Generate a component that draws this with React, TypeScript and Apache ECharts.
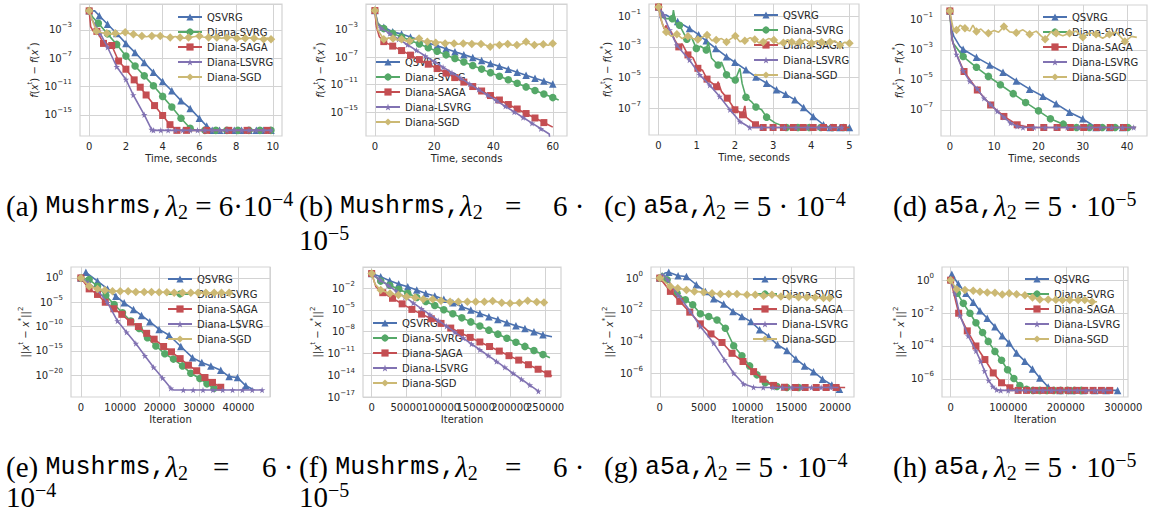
import React, { useEffect, useRef } from 'react';
import * as echarts from 'echarts';

const NAMES = ['QSVRG', 'Diana-SVRG', 'Diana-SAGA', 'Diana-LSVRG', 'Diana-SGD'];
const COLORS = ['#4C72B0', '#55A868', '#C44E52', '#8172B2', '#CCB974'];
const STAR = 'path://M50,0 L61,35 L98,35 L68,57 L79,91 L50,70 L21,91 L32,57 L2,35 L39,35 Z';
const SYMBOLS = ['triangle', 'circle', 'rect', STAR, 'diamond'];
const SYMBOL_SIZES = [7.5, 7.5, 7, 6.5, 8.5];

// ---------- (a) Mushrooms, time, f gap ----------
const aQsvrg = [[0,0.5],[0.3,0.5,0],[0.55,0.1],[1,6.3e-3],[1.5,3.2e-4],[2,1.25e-5],[2.5,6.3e-7],[3,2.5e-8],[3.5,1e-9],[4,5e-11],[4.5,2.5e-12],[5,1e-13],[5.5,8e-15],[6,3.2e-16],[6.4,2.5e-17],[6.7,6.3e-18],[7.1,6.3e-18],[7.5,6.3e-18],[7.9,6.3e-18],[8.3,6.3e-18],[8.7,6.3e-18],[9.1,6.3e-18],[9.5,6.3e-18],[9.9,6.3e-18]];
const aSvrg = [[0,0.5],[0.2,6e-2,0],[0.5,8.7e-3],[1,2.8e-4],[1.5,9e-6],[2,2e-7],[2.5,8e-9],[3,3.2e-10],[3.5,1.25e-11],[4,4e-13],[4.5,1.25e-14],[5,3.2e-16],[5.5,1.25e-17],[5.8,6.3e-18,0],[6.3,6.3e-18],[6.9,6.3e-18],[7.5,6.3e-18],[8.1,6.3e-18],[8.7,6.3e-18],[9.3,6.3e-18],[9.9,6.3e-18]];
const aSaga = [[0,0.5],[0.08,3e-3,0],[0.2,8e-4,0],[0.42,6.3e-4],[0.6,1e-4,0],[0.78,1.25e-5],[1,1e-5,0],[1.23,6.3e-6],[1.6,4e-8],[2,2.8e-9],[2.45,8.7e-11],[2.78,8e-12],[3.1,6.3e-13],[3.56,2e-14],[4,8e-16],[4.4,4e-17],[4.78,6.3e-18],[5.3,6.3e-18],[6.4,6.3e-18],[7.6,6.3e-18],[8.6,6.3e-18],[9.7,6.3e-18]];
const aLsvrg = [[0,0.5],[0.15,3e-2,0],[0.6,3.2e-4],[1,3.6e-6],[1.5,6.3e-9],[2,1e-10],[2.4,6.3e-13],[3,1e-15],[3.4,8e-18],[3.5,6.3e-18],[3.9,6.3e-18],[4.3,6.3e-18],[4.7,6.3e-18],[5.1,6.3e-18],[5.5,6.3e-18],[5.9,6.3e-18],[6.3,6.3e-18],[6.7,6.3e-18],[7.1,6.3e-18],[7.5,6.3e-18],[7.9,6.3e-18],[8.3,6.3e-18],[8.7,6.3e-18],[9.1,6.3e-18],[9.5,6.3e-18],[9.9,6.3e-18]];
const aSgd = [[0,0.5],[0.2,1.5e-2,0],[0.4,6.3e-4],[0.7,4e-4,0],[0.96,3.4e-4],[1.2,2.5e-4,0],[1.42,3.4e-4],[1.7,2.8e-4,0],[1.96,4.7e-4],[2.2,3e-4,0],[2.41,2.5e-4],[2.65,1.8e-4,0],[2.87,1.4e-4],[3.1,1.1e-4,0],[3.41,1.4e-4],[3.6,1.8e-4,0],[3.87,1.4e-4],[4.2,1e-4,0],[4.41,8.3e-5],[4.7,1.2e-4,0],[4.95,8.3e-5],[5.2,7e-5,0],[5.41,8.3e-5],[5.7,1.1e-4,0],[6,1.4e-4],[6.2,1e-4,0],[6.5,8.3e-5],[6.7,1.1e-4,0],[6.95,8.3e-5],[7.2,7e-5,0],[7.5,8.3e-5],[7.8,9e-5,0],[8.04,6.6e-5],[8.2,5.5e-5,0],[8.5,6.6e-5],[8.7,8e-5,0],[8.98,6.6e-5],[9.2,5.5e-5,0],[9.5,4.8e-5],[9.7,7e-5,0],[9.9,5e-5]];

// ---------- (b) Mushrooms, time, f gap ----------
const bQsvrg = [[0,0.7],[0.5,6.3e-3,0],[3,2.5e-3],[6,5.6e-4],[9,2.5e-4],[12,9.3e-5],[15,3.5e-5],[18,1.3e-5],[21,4.8e-6],[24,1.8e-6],[27,6.8e-7],[30,2.5e-7],[33,9.3e-8],[36,3.5e-8],[39,1.3e-8],[42,4.8e-9],[45,1.8e-9],[48,6.6e-10],[51,2.5e-10],[54,9.1e-11],[57,3.4e-11],[60,1.25e-11]];
const bSvrg = [[0,0.7],[1,1e-2,0],[3,1.6e-3],[6,3.2e-4],[9,9.5e-5],[12,2.9e-5],[15,8.7e-6],[18,2.6e-6],[21,8e-7],[24,2.3e-7],[27,7e-8],[30,2.1e-8],[33,6.5e-9],[36,1.9e-9],[39,5.8e-10],[42,1.7e-10],[45,5.2e-11],[48,1.6e-11],[51,4.8e-12],[54,1.4e-12],[57,4.4e-13],[60,1.3e-13],[62,5.9e-14,0]];
const bSaga = [[0,0.7],[0.5,3.2e-3,0],[1.5,1e-4,0],[3,2e-5],[6,4.4e-6],[9,9.8e-7],[12,2.1e-7],[15,4.7e-8],[18,1e-8],[21,2.3e-9],[24,5e-10],[27,1.1e-10],[30,2.4e-11],[33,5.4e-12],[36,1.2e-12],[39,2.6e-13],[42,5.8e-14],[45,1.26e-14],[48,2.8e-15],[51,6.1e-16],[54,1.35e-16],[57,2.9e-17],[60,6.3e-18,0]];
const bLsvrg = [[0,0.7],[1,6.3e-3,0],[2,2e-3],[5,3e-4],[8,4.6e-5],[11,6.9e-6],[14,1.05e-6],[17,1.6e-7],[20,2.5e-8],[23,3.7e-9],[26,5.6e-10],[29,8.5e-11],[32,1.3e-11],[35,1.95e-12],[38,3e-13],[41,4.5e-14],[44,6.9e-15],[47,1.05e-15],[50,1.6e-16],[53,2.4e-17],[56,3.6e-18],[58.8,6.3e-19,0],[59,1e-19,0]];
const bSgd = [[0,0.7],[1,1e-3,0],[3,4.3e-5],[4.5,7e-5,0],[6.1,5.9e-5],[7.5,3.5e-5,0],[9,4.3e-5],[10.5,2.5e-5,0],[11.7,2.4e-5],[13,4e-5,0],[14.9,5.9e-5],[16.3,2.2e-5,0],[17.7,1.9e-5],[19,2.6e-5,0],[20.5,1.4e-5],[22,1.8e-5,0],[23.7,1.1e-5],[25,1.5e-5,0],[26.7,1.1e-5],[28,8e-6,0],[29.8,1.1e-5],[31,1.4e-5,0],[32.7,8.7e-6],[34,1.1e-5,0],[35.8,8.7e-6],[37.5,6e-6,0],[38.9,3.5e-6],[40.5,8e-6,0],[42,6.3e-6],[43.5,9e-6,0],[44.8,8.7e-6],[46.5,6e-6,0],[47.9,6.3e-6],[49.5,9e-6,0],[51,1.9e-5],[52.5,8e-6,0],[53.8,6.3e-6],[55.5,9e-6,0],[56.8,7.9e-6],[58.5,6e-6,0],[60,1.1e-5]];

// ---------- (c) a5a, time, f gap ----------
const cQsvrg = [[0,0.4],[0.11,0.13],[0.2,0.12,0],[0.5,4.5e-2],[0.81,1.6e-2],[1.05,6.3e-3],[1.25,2.5e-3],[1.5,8e-4],[1.78,2.3e-4],[2,1e-4],[2.29,3.2e-5],[2.55,1.1e-5],[2.83,4.3e-6],[3.09,1.6e-6],[3.33,8e-7],[3.57,3.5e-7],[3.8,1.1e-7],[4.05,2.9e-8],[4.32,8.3e-9],[4.5,5.5e-9],[4.75,5.5e-9],[5,5.5e-9]];
const cSvrg = [[0,0.4],[0.15,7e-2,0],[0.36,7e-2],[0.39,0.25,0],[0.45,3.3e-2,0],[0.55,2.6e-2],[0.74,3.2e-3],[0.85,5e-3,0],[0.99,8e-4],[1.1,1.1e-3,0],[1.25,6.3e-4],[1.3,2.1e-3,0],[1.39,1.8e-4,0],[1.56,6.6e-5],[1.65,1e-4,0],[1.78,1.5e-5],[1.91,8.9e-6,0],[2.01,6.9e-6],[2.13,4e-5,0],[2.19,4e-6,0],[2.29,5.2e-7],[2.43,2.7e-7,0],[2.55,1.2e-7],[2.7,7.9e-8,0],[2.83,2.6e-8],[3.05,1.1e-8,0],[3.35,5.5e-9],[3.65,5.5e-9],[3.95,5.5e-9],[4.25,5.5e-9],[4.55,5.5e-9],[4.85,5.5e-9],[5,5.5e-9,0]];
const cSaga = [[0,0.4],[0.07,5.5e-2,0],[0.15,1.5e-2,0],[0.2,2.5e-2,0],[0.27,8e-3,0],[0.33,1e-2,0],[0.42,3e-3,0],[0.53,1e-3],[0.62,1.6e-3,0],[0.77,3e-4],[0.9,2e-4,0],[1.03,4e-5],[1.15,3e-5,0],[1.27,7.9e-6],[1.42,4e-6,0],[1.52,2.5e-6],[1.56,5.4e-6,0],[1.65,1.2e-6,0],[1.8,4.5e-7],[2,7.9e-8],[2.1,6e-8,0],[2.2,3.7e-8],[2.26,1.4e-7,0],[2.3,2.5e-8,0],[2.54,8.3e-9],[2.74,5.5e-9],[3,5.5e-9],[3.27,5.5e-9],[3.53,5.5e-9],[3.79,5.5e-9],[4.05,5.5e-9],[4.32,5.5e-9],[4.58,5.5e-9],[4.84,5.5e-9],[5,5.5e-9,0]];
const cLsvrg = [[0,0.4],[0.13,0.12],[0.29,1.25e-2],[0.48,1.3e-3],[0.65,4e-4,0],[0.81,1.4e-4],[1.08,1.5e-5],[1.34,3.2e-6],[1.6,5.8e-7],[1.87,8e-8],[2.13,1.35e-8],[2.39,5.5e-9],[2.7,5.5e-9],[3,5.5e-9],[3.3,5.5e-9],[3.6,5.5e-9],[3.9,5.5e-9],[4.2,5.5e-9],[4.5,5.5e-9],[4.8,5.5e-9]];
const cSgd = [[0,0.4],[0.1,3e-2,0],[0.2,9.5e-3],[0.33,5e-3,0],[0.48,6.8e-3],[0.62,3.5e-3,0],[0.77,5e-3],[0.9,3.5e-3,0],[1.03,3e-3],[1.15,4.5e-3,0],[1.27,5.9e-3],[1.4,2.5e-3,0],[1.51,2.8e-3],[1.65,3.5e-3,0],[1.78,2.1e-3],[1.9,3.5e-3,0],[2.01,5.2e-3],[2.13,2.2e-3,0],[2.26,2.5e-3],[2.4,4e-3,0],[2.52,3e-3],[2.63,1.8e-3,0],[2.74,2.1e-3],[2.88,3.5e-3,0],[3.02,2.8e-3],[3.15,1.6e-3,0],[3.27,1.9e-3],[3.38,3e-3,0],[3.49,2.1e-3],[3.6,1.5e-3,0],[3.7,2.1e-3],[3.85,3e-3,0],[4.01,1.7e-3],[4.15,2.5e-3,0],[4.27,2.1e-3],[4.38,1.4e-3,0],[4.49,2.1e-3],[4.62,2.5e-3,0],[4.75,1.3e-3],[4.88,2e-3,0],[5,1.7e-3]];

// ---------- (d) a5a, time, f gap ----------
const dQsvrg = [[0,0.4],[0.3,3e-2,0],[0.9,8e-3,0],[2.26,1.7e-3,0],[3,1.1e-3],[6,3.2e-4],[9,1e-4],[12,3.2e-5],[15,8.5e-6],[18,2.4e-6],[21,8e-7],[24,2.5e-7],[27,6.9e-8],[30,2.5e-8],[33,6.6e-9],[36,6.6e-9],[39,6.6e-9],[42,6.6e-9,0]];
const dSvrg = [[0,0.4],[0.3,1.5e-2,0],[0.75,2.8e-3,0],[3,3.6e-4],[6,6.9e-5],[8.7,1.7e-5],[11.4,4.7e-6],[14.3,1.2e-6],[17.1,3.1e-7],[20,8.5e-8],[22.7,2.5e-8],[25.6,1.1e-8],[28.6,6.6e-9],[31.5,6.6e-9],[34.4,6.6e-9],[37.3,6.6e-9],[40.2,6.6e-9],[42,6.6e-9,0]];
const dSaga = [[0,0.4],[0.5,4.7e-3,0],[1.5,5e-4,0],[3.2,3.6e-5],[6.2,2.1e-6],[9.2,2.1e-7],[12.2,3.6e-8],[15.2,1e-8],[18.2,6.6e-9],[21.2,6.6e-9],[24.2,6.6e-9],[27.2,6.6e-9],[30.2,6.6e-9],[33.2,6.6e-9],[36.2,6.6e-9],[39.2,6.6e-9],[42,6.6e-9,0]];
const dLsvrg = [[0,0.4],[0.5,5e-3,0],[1.5,5e-4],[3,4e-5],[4.5,8e-6],[6.2,2.5e-6],[7.7,6e-7],[9.2,2.3e-7],[10.7,8e-8],[12.2,3.2e-8],[13.7,1.3e-8],[15.2,8e-9],[16.5,6.6e-9],[19,6.6e-9],[21.5,6.6e-9],[24,6.6e-9],[26.5,6.6e-9],[29,6.6e-9],[31.5,6.6e-9],[34,6.6e-9],[36.5,6.6e-9],[39,6.6e-9],[41.5,6.6e-9]];
const dSgd = [[0,0.4],[0.5,6e-2,0],[0.9,1.7e-2,0],[1.5,2.1e-2],[2.3,4.5e-2,0],[3.4,2.8e-2],[4.5,1.8e-2,0],[5.2,4.5e-2,0],[6,1.7e-2],[7,2.5e-2,0],[7.8,1.5e-2,0],[8.7,1.3e-2],[10,2e-2,0],[11,1.5e-2,0],[12.2,3.6e-2],[13.5,1.6e-2,0],[15,1.4e-2],[16.5,2.2e-2,0],[18,1.1e-2],[19.5,1.8e-2,0],[20.5,9e-3,0],[21.5,5.1e-3],[22.8,1.6e-2,0],[24,1.3e-2],[25.5,9e-3,0],[27,1.3e-2],[28.5,1.8e-2,0],[30,6.9e-3],[31.5,1.4e-2,0],[33,1.1e-2],[34.5,6e-3,0],[36,1.1e-2],[37.5,1.6e-2,0],[39.5,3.6e-3],[41,8e-3,0],[42.2,6.9e-3,0]];

// ---------- (e) Mushrooms, iteration, x gap ----------
const eQsvrg = [[0,1],[1270,14],[4230,0.21],[6770,5.6e-3],[8880,1.8e-4],[10990,7.6e-6],[13360,3.3e-7],[15390,1.95e-8],[17500,1e-9],[19870,2.6e-11],[22400,1.6e-12],[25370,7.9e-15],[28330,4e-17],[30700,4e-18],[33000,7.9e-19],[35500,1e-19],[37630,5e-21],[39750,3.2e-21],[41860,6.3e-23],[44000,9e-24,0]];
const eSvrg = [[0,1],[2110,0.46],[4230,2e-2],[6340,2.5e-4],[8460,3.5e-6],[10570,6.8e-8],[12680,1.35e-9],[14800,4e-11],[16900,5e-13],[19030,1e-14],[21300,2.5e-16],[23500,2e-17],[25800,7.9e-19],[27900,2.5e-20],[30200,2e-21],[32000,1.6e-22],[33800,2e-23],[35900,9e-24,0]];
const eSaga = [[0,1],[2110,5.6e-3],[4230,4e-4],[6200,1e-5],[8380,4.5e-7],[10400,3.2e-8],[12600,7.9e-10],[14600,1e-10],[16700,4e-12],[18600,2.5e-13],[21000,7.9e-15],[23000,6.3e-16],[25200,2.5e-17],[27300,1.1e-18],[29400,7.9e-20],[31500,3.2e-21],[33400,3.2e-22],[35500,3.2e-23],[36200,9e-24,0]];
const eLsvrg = [[0,1],[1860,0.1],[4230,3e-3],[6770,7.9e-6],[9300,1.35e-9],[11600,6.9e-12],[13950,3.2e-14],[16240,1e-16],[18440,4e-19],[20720,2.5e-21],[22830,2e-23],[23500,9e-24,0],[26000,9e-24],[28500,9e-24],[31000,9e-24],[33500,9e-24],[36000,9e-24],[38500,9e-24],[41000,9e-24],[43500,9e-24],[46000,9e-24]];
const eSgd = [[0,1],[2110,2e-2],[4230,5.6e-3],[6090,3e-3],[8030,1.9e-3],[9980,1.9e-3],[12000,1.9e-3],[13950,1.35e-3],[16070,1.35e-3],[17930,1.35e-3],[19870,1.15e-3],[21820,1.15e-3],[23680,8.5e-4],[25790,8.5e-4],[27910,8.5e-4],[29770,8.5e-4],[31710,8.5e-4],[33830,8.5e-4],[35690,8.5e-4],[37630,8.5e-4]];

// ---------- (f) Mushrooms, iteration, x gap ----------
const fQsvrg = [[0,1],[13000,0.36],[26000,0.1],[39000,3.5e-2],[52000,1.5e-2],[65000,5.2e-3],[78000,1.8e-3],[91000,7.9e-4],[104000,2.8e-4],[117000,9.5e-5],[130000,2.7e-5],[143000,9.3e-6],[156000,3.2e-6],[169000,1.1e-6],[182000,4.8e-7],[195000,1.7e-7],[208000,6.3e-8],[221000,2.8e-8],[234000,9.5e-9],[247000,3.6e-9],[260000,1.95e-9,0]];
const fSvrg = [[0,1],[13000,9.1e-2],[26000,2.5e-2],[39000,6.8e-3],[52000,1.9e-3],[65000,5.1e-4],[78000,1.4e-4],[91000,3.9e-5],[104000,1.05e-5],[117000,2.9e-6],[130000,7.9e-7],[143000,2.2e-7],[156000,6e-8],[169000,1.6e-8],[182000,4.5e-9],[195000,1.2e-9],[208000,3.4e-10],[221000,9.3e-11],[234000,2.5e-11],[247000,6.9e-12],[257000,2.5e-12,0]];
const fSaga = [[0,1],[6000,1.6e-2,0],[16000,2.3e-3],[30000,3.9e-4],[44000,6.7e-5],[58000,1.15e-5],[72000,2.6e-6],[86000,5.9e-7],[100000,1.35e-7],[114000,3.1e-8],[128000,6.9e-9],[142000,1.6e-9],[156000,3.8e-10],[170000,8.9e-11],[184000,2.1e-11],[198000,4.9e-12],[212000,1.2e-12],[226000,2.8e-13],[240000,6.6e-14],[254000,1.55e-14],[260000,7.9e-15,0]];
const fLsvrg = [[0,1],[12000,0.14],[24000,2.2e-2],[36000,3.5e-3],[48000,5.6e-4],[60000,8.9e-5],[72000,1.4e-5],[84000,2.2e-6],[96000,3.5e-7],[108000,5.6e-8],[120000,8.5e-9],[132000,1.3e-9],[144000,2e-10],[156000,3.2e-11],[168000,5e-12],[180000,7.9e-13],[192000,1.2e-13],[204000,1.8e-14],[216000,2.8e-15],[228000,4.4e-16],[240400,6.3e-17]];
const fSgd = [[0,1],[4800,3.5e-2,0],[13000,5.2e-3],[26400,1.8e-3],[38500,1.1e-3],[50500,6.3e-4],[62500,5.1e-4],[74500,2.8e-4],[88000,2.8e-4],[100000,1.8e-4],[113000,1.3e-4],[125000,1.3e-4],[138000,1.3e-4],[150000,1.3e-4],[162500,1.3e-4],[174500,1.6e-4],[187500,9.5e-5],[199500,7.8e-5],[213000,9.5e-5],[225000,1.8e-4],[238000,1.2e-4],[248500,1.05e-4]];

// ---------- (g) a5a, iteration, x gap ----------
const gQsvrg = [[0,1],[600,2.1,0],[1025,2.3],[2090,1.4],[3040,1.26],[4170,0.38],[5200,0.145],[6150,5e-2],[7290,2.3e-2],[8350,7.9e-3],[9370,3.8e-3],[10400,1.8e-3],[11390,5.5e-4],[12410,2.1e-4],[13430,6.2e-5],[14500,2.7e-5],[15520,7.9e-6],[16510,2.9e-6],[17530,1.26e-6],[18560,4.2e-7],[19620,1.8e-7],[20490,9.8e-8]];
const gSvrg = [[0,1],[265,2.1,0],[835,0.79],[1970,0.11],[2920,4.3e-2],[3760,2.1e-2],[4630,5.6e-3],[5580,3.8e-3],[6530,2.3e-3],[7480,6.9e-4],[8430,5.4e-5],[9370,1.26e-5],[10250,2.9e-6],[11080,7.9e-7],[12030,2.5e-7],[13360,1.45e-7],[14500,1.26e-7],[15830,1.26e-7]];
const gSaga = [[0,1],[1210,0.145],[2280,3.4e-2],[3420,7.1e-3],[4630,1.3e-3],[5840,3e-4],[7100,8.7e-5],[8240,1.8e-5],[9490,5.5e-6],[10700,1.26e-6],[11760,4.2e-7],[12980,1.7e-7],[14230,1.3e-7],[15450,1.26e-7],[16580,1.26e-7],[17840,1.26e-7],[18980,1.26e-7],[20110,1.26e-7],[21140,1.26e-7,0]];
const gLsvrg = [[0,1],[265,1.9,0],[910,0.79],[2160,7.6e-2],[3490,7.9e-3],[4630,8.9e-4],[6150,7.9e-5],[7400,6.9e-6],[8430,1e-6],[9560,2.1e-7],[10700,1.3e-7],[11800,1.26e-7],[12900,1.26e-7],[14000,1.26e-7],[15100,1.26e-7],[16200,1.26e-7],[17300,1.26e-7],[18400,1.26e-7],[19500,1.26e-7],[20380,1.26e-7,0]];
const gSgd = [[0,1],[1210,0.3],[2050,0.23],[3040,0.18],[3950,0.145],[5010,0.13],[5960,0.11],[6910,0.1],[7860,0.1],[8800,9.8e-2],[9940,8.9e-2],[10890,8.9e-2],[11840,7.6e-2],[12790,8.9e-2],[13810,6.9e-2],[14760,6.9e-2],[15830,6.3e-2],[16770,6.3e-2],[17720,6e-2],[18670,5.5e-2],[19360,5.5e-2]];

// ---------- (h) a5a, iteration, x gap ----------
const hQsvrg = [[0,1,0],[2000,2.3],[13300,0.58],[26600,0.16],[39300,4.5e-2],[50900,1.4e-2],[63600,4.8e-3],[76900,1.5e-3],[89600,4.2e-4],[101700,1.5e-4],[114500,3.7e-5],[128900,1.2e-5],[142200,4e-6],[154900,1.15e-6],[169400,3.2e-7],[180000,2e-7,0],[190000,2e-7],[210000,2e-7],[230000,2e-7],[250000,2e-7],[270000,2e-7],[290000,2e-7]];
const hSvrg = [[0,1],[11600,0.16],[22000,3.9e-2],[33500,9.8e-3],[43900,2.6e-3],[55500,6.6e-4],[65300,1.9e-4],[76900,4.7e-5],[88400,1.35e-5],[98800,3.6e-6],[109800,1.05e-6],[120200,4e-7],[131800,2.3e-7],[143000,2e-7],[155000,2e-7],[167000,2e-7],[179000,2e-7],[191000,2e-7],[203000,2e-7],[215000,2e-7],[227000,2e-7],[240000,2e-7,0]];
const hSaga = [[0,1],[13900,9.8e-3],[28900,8.3e-4],[43900,1e-4],[59500,1.5e-5],[74000,2.3e-6],[88400,5.8e-7],[102900,2.9e-7],[117300,2e-7],[131800,2e-7],[146300,2e-7],[160700,2e-7],[175200,2e-7],[189600,2e-7],[204000,2e-7],[218500,2e-7],[232900,2e-7],[247400,2e-7],[261800,2e-7],[276300,2e-7]];
const hLsvrg = [[0,1],[7500,0.16],[16200,7e-3],[30600,4e-4],[44000,5e-5],[52000,1.2e-5],[59000,3e-6],[66000,8e-7],[73000,3.5e-7],[80000,2.2e-7],[87000,2e-7],[100000,2e-7],[115000,2e-7],[130000,2e-7],[145000,2e-7],[160000,2e-7],[175000,2e-7],[190000,2e-7],[205000,2e-7],[220000,2e-7],[235000,2e-7],[250000,2e-7],[265000,2e-7],[280000,2e-7,0]];
const hSgd = [[0,1],[10400,0.28],[24800,0.25],[39300,0.23],[50900,0.2],[63600,0.18],[76900,0.17],[89600,0.135],[101700,0.16],[114500,0.14],[128900,0.12],[142200,8.9e-2],[154900,6.8e-2],[169400,6.8e-2],[182700,6.5e-2],[194200,6.2e-2],[206900,6.2e-2],[221400,6.2e-2],[232900,6.2e-2],[245600,4.9e-2],[254300,4.9e-2,0]];

const F_NAME = '{i|f}({i|x}{s|t}) − {i|f}({i|x}{s|*})';
const X_NAME = '||{i|x}{s|t} − {i|x}{s|*}||{s|2}';

const PANELS = [
  { grid: { left: 80, top: 4, width: 202, height: 132 }, x: { min: -0.5, max: 10.5, step: 0.5, first: 0, major: 2 }, y: { min: -18, max: 0.67, step: 1, first: -3, major: 4 }, xName: 'Time, seconds', yName: F_NAME, yGap: 35, legend: { left: 177, top: 11 }, data: [aQsvrg, aSvrg, aSaga, aLsvrg, aSgd] },
  { grid: { left: 366, top: 4, width: 201, height: 132 }, x: { min: -3, max: 64.8, step: 1, first: 0, major: 20 }, y: { min: -18.5, max: 0.8, step: 0.5, first: -3, major: 4 }, xName: 'Time, seconds', yName: F_NAME, yGap: 37, legend: { left: 375, top: 56 }, data: [bQsvrg, bSvrg, bSaga, bLsvrg, bSgd] },
  { grid: { left: 649, top: 4, width: 210, height: 131 }, x: { min: -0.25, max: 5.25, step: 0.25, first: 0, major: 1 }, y: { min: -8.75, max: -0.2, step: 0.25, first: -1, major: 2 }, xName: 'Time, seconds', yName: F_NAME, yGap: 32, legend: { left: 753, top: 9 }, data: [cQsvrg, cSvrg, cSaga, cLsvrg, cSgd] },
  { grid: { left: 941, top: 5, width: 206, height: 131 }, x: { min: -2, max: 44.5, step: 2, first: 0, major: 10 }, y: { min: -8.75, max: 0, step: 0.25, first: -1, major: 2 }, xName: 'Time, seconds', yName: F_NAME, yGap: 32, legend: { left: 1042, top: 11 }, data: [dQsvrg, dSvrg, dSaga, dLsvrg, dSgd] },
  { grid: { left: 71, top: 267, width: 199, height: 130 }, x: { min: -2500, max: 48000, step: 2500, first: 0, major: 10000 }, y: { min: -24.5, max: 2.25, step: 0.5, first: 0, major: 5 }, xName: 'Iteration', yName: X_NAME, yGap: 35, legend: { left: 167, top: 273 }, data: [eQsvrg, eSvrg, eSaga, eLsvrg, eSgd] },
  { grid: { left: 363, top: 267, width: 198, height: 130 }, x: { min: -12500, max: 273000, step: 12500, first: 0, major: 50000 }, y: { min: -17, max: 0.9, step: 3, first: -17, major: 3 }, xName: 'Iteration', yName: X_NAME, yGap: 39, legend: { left: 372, top: 317 }, data: [fQsvrg, fSvrg, fSaga, fLsvrg, fSgd] },
  { grid: { left: 651, top: 267, width: 203, height: 130 }, x: { min: -1000, max: 22150, step: 1000, first: 0, major: 5000 }, y: { min: -7.5, max: 0.7, step: 0.5, first: 0, major: 2 }, xName: 'Iteration', yName: X_NAME, yGap: 30, legend: { left: 752, top: 273 }, data: [gQsvrg, gSvrg, gSaga, gLsvrg, gSgd] },
  { grid: { left: 942, top: 267, width: 186, height: 130 }, x: { min: -15000, max: 308000, step: 5000, first: 0, major: 100000 }, y: { min: -7.1, max: 0.8, step: 0.1, first: 0, major: 2 }, xName: 'Iteration', yName: X_NAME, yGap: 32, legend: { left: 1024, top: 273 }, data: [hQsvrg, hSvrg, hSaga, hLsvrg, hSgd] },
];

const TEXT = '#262626';
const GRID_LINE = '#d3d3d3';
const FONT = 'DejaVu Sans';

const TICK_RICH = {
  b: { fontSize: 10, fontFamily: FONT, color: TEXT, lineHeight: 13 },
  s: { fontSize: 7, fontFamily: FONT, color: TEXT, lineHeight: 5, height: 4, verticalAlign: 'top' },
};
const NAME_RICH = {
  i: { fontSize: 10, fontFamily: FONT, fontStyle: 'italic', color: TEXT, lineHeight: 13 },
  s: { fontSize: 7, fontFamily: FONT, color: TEXT, lineHeight: 5, height: 4, verticalAlign: 'top' },
};

const CAP_RICH = {
  r: { fontFamily: 'Liberation Serif', fontSize: 29, lineHeight: 24, fill: '#000' },
  t: { fontFamily: 'Liberation Mono', fontSize: 25, lineHeight: 24, fill: '#000' },
  m: { fontFamily: 'Liberation Serif', fontStyle: 'italic', fontSize: 29, lineHeight: 24, fill: '#000' },
  sb: { fontFamily: 'Liberation Serif', fontSize: 20, lineHeight: 12, height: 12, verticalAlign: 'bottom', fill: '#000' },
  sp: { fontFamily: 'Liberation Serif', fontSize: 20, lineHeight: 9, height: 9, verticalAlign: 'top', fill: '#000' },
};

const CAPTIONS = [
  { x: 6, y: 206, text: '{r|(a) }{t|Mushrms,}{m|λ}{sb|2}{r| = 6·10}{sp|−4}' },
  { x: 299, y: 206, text: '{r|(b) }{t|Mushrms,}{m|λ}{sb|2}' },
  { x: 505, y: 206, text: '{r|=}' },
  { x: 553, y: 206, text: '{r|6 ·}' },
  { x: 299, y: 240, text: '{r|10}{sp|−5}' },
  { x: 604, y: 206, text: '{r|(c) }{t|a5a,}{m|λ}{sb|2}{r| = 5 · 10}{sp|−4}' },
  { x: 893, y: 206, text: '{r|(d) }{t|a5a,}{m|λ}{sb|2}{r| = 5 · 10}{sp|−5}' },
  { x: 6, y: 467, text: '{r|(e) }{t|Mushrms,}{m|λ}{sb|2}' },
  { x: 213, y: 467, text: '{r|=}' },
  { x: 262, y: 467, text: '{r|6 ·}' },
  { x: 6, y: 497, text: '{r|10}{sp|−4}' },
  { x: 299, y: 467, text: '{r|(f) }{t|Mushrms,}{m|λ}{sb|2}' },
  { x: 505, y: 467, text: '{r|=}' },
  { x: 553, y: 467, text: '{r|6 ·}' },
  { x: 299, y: 497, text: '{r|10}{sp|−5}' },
  { x: 604, y: 467, text: '{r|(g) }{t|a5a,}{m|λ}{sb|2}{r| = 5 · 10}{sp|−4}' },
  { x: 893, y: 467, text: '{r|(h) }{t|a5a,}{m|λ}{sb|2}{r| = 5 · 10}{sp|−5}' },
];

function expLabel(n: number) {
  return n < 0 ? '−' + String(-n) : String(n);
}

function makeAxis(gridIndex: number, cfg: any, isY: boolean, panel: any) {
  const period = Math.max(1, Math.round(cfg.major / cfg.step));
  const idx = Math.round((cfg.first - cfg.min) / cfg.step);
  const phase = ((idx % period) + period) % period;
  const colors: string[] = [];
  for (let i = 0; i < period; i++) colors.push(i === phase ? GRID_LINE : 'rgba(0,0,0,0)');
  const isMajor = (v: number) => {
    const k = (v - cfg.first) / cfg.major;
    return Math.abs(k - Math.round(k)) < 1e-6;
  };
  const base: any = {
    type: 'value',
    gridIndex,
    min: cfg.min,
    max: cfg.max,
    interval: cfg.step,
    axisLine: { show: false },
    axisTick: { show: false },
    splitLine: { show: true, lineStyle: { color: colors, width: 1 } },
    nameLocation: 'middle',
  };
  if (isY) {
    return {
      ...base,
      name: panel.yName,
      nameGap: panel.yGap,
      nameRotate: 90,
      nameTextStyle: { fontSize: 10, fontFamily: FONT, color: TEXT, lineHeight: 13, rich: NAME_RICH },
      axisLabel: {
        margin: 8,
        fontSize: 10,
        fontFamily: FONT,
        color: TEXT,
        rich: TICK_RICH,
        formatter: (v: number) => (isMajor(v) ? '{b|10}{s|' + expLabel(Math.round(v)) + '}' : ''),
      },
    };
  }
  return {
    ...base,
    name: panel.xName,
    nameGap: 17,
    nameTextStyle: { fontSize: 10, fontFamily: FONT, color: TEXT },
    axisLabel: {
      margin: 5,
      fontSize: 10,
      fontFamily: FONT,
      color: TEXT,
      formatter: (v: number) => (isMajor(v) ? String(Math.round(v)) : ''),
    },
  };
}

function toData(arr: number[][]) {
  return arr.map((d) => {
    const item: any = { value: [d[0], Math.log10(d[1])] };
    if (d[2] === 0) item.symbol = 'none';
    return item;
  });
}

export default function App() {
  const ref = useRef<HTMLDivElement>(null);
  useEffect(() => {
    if (!ref.current) return;
    const chart = echarts.init(ref.current, null, { renderer: 'svg' });
    const grids = PANELS.map((p) => ({
      ...p.grid,
      show: true,
      borderColor: GRID_LINE,
      borderWidth: 1.2,
      backgroundColor: '#fff',
      containLabel: false,
    }));
    const xAxes = PANELS.map((p, i) => makeAxis(i, p.x, false, p));
    const yAxes = PANELS.map((p, i) => makeAxis(i, p.y, true, p));
    const series: any[] = [];
    PANELS.forEach((p, pi) => {
      p.data.forEach((arr, si) => {
        series.push({
          type: 'line',
          name: NAMES[si],
          xAxisIndex: pi,
          yAxisIndex: pi,
          data: toData(arr),
          symbol: SYMBOLS[si],
          symbolSize: SYMBOL_SIZES[si],
          showSymbol: true,
          color: COLORS[si],
          lineStyle: { width: 1.6, color: COLORS[si] },
          itemStyle: { color: COLORS[si], borderWidth: 0 },
          emphasis: { disabled: true },
          silent: true,
          z: 2 + si,
        });
      });
    });
    const legends = PANELS.map((p) => ({
      data: NAMES,
      orient: 'vertical',
      left: p.legend.left,
      top: p.legend.top,
      itemWidth: 24,
      itemHeight: 9,
      itemGap: 3,
      padding: 0,
      selectedMode: false,
      textStyle: { fontSize: 10, fontFamily: FONT, color: TEXT, lineHeight: 12 },
    }));
    const graphic = CAPTIONS.map((c) => ({
      type: 'text',
      x: c.x,
      y: c.y,
      silent: true,
      style: {
        text: c.text,
        rich: CAP_RICH,
        verticalAlign: 'middle',
        align: 'left',
        fill: '#000',
        fontFamily: 'Liberation Serif',
        fontSize: 29,
      },
    }));
    chart.setOption({
      animation: false,
      backgroundColor: '#fff',
      grid: grids,
      xAxis: xAxes,
      yAxis: yAxes,
      series,
      legend: legends,
      graphic,
    });
    return () => chart.dispose();
  }, []);
  return (
    <div
      ref={ref}
      style={{ position: 'absolute', left: 0, top: 0, width: 1160, height: 516, background: '#fff' }}
    />
  );
}
